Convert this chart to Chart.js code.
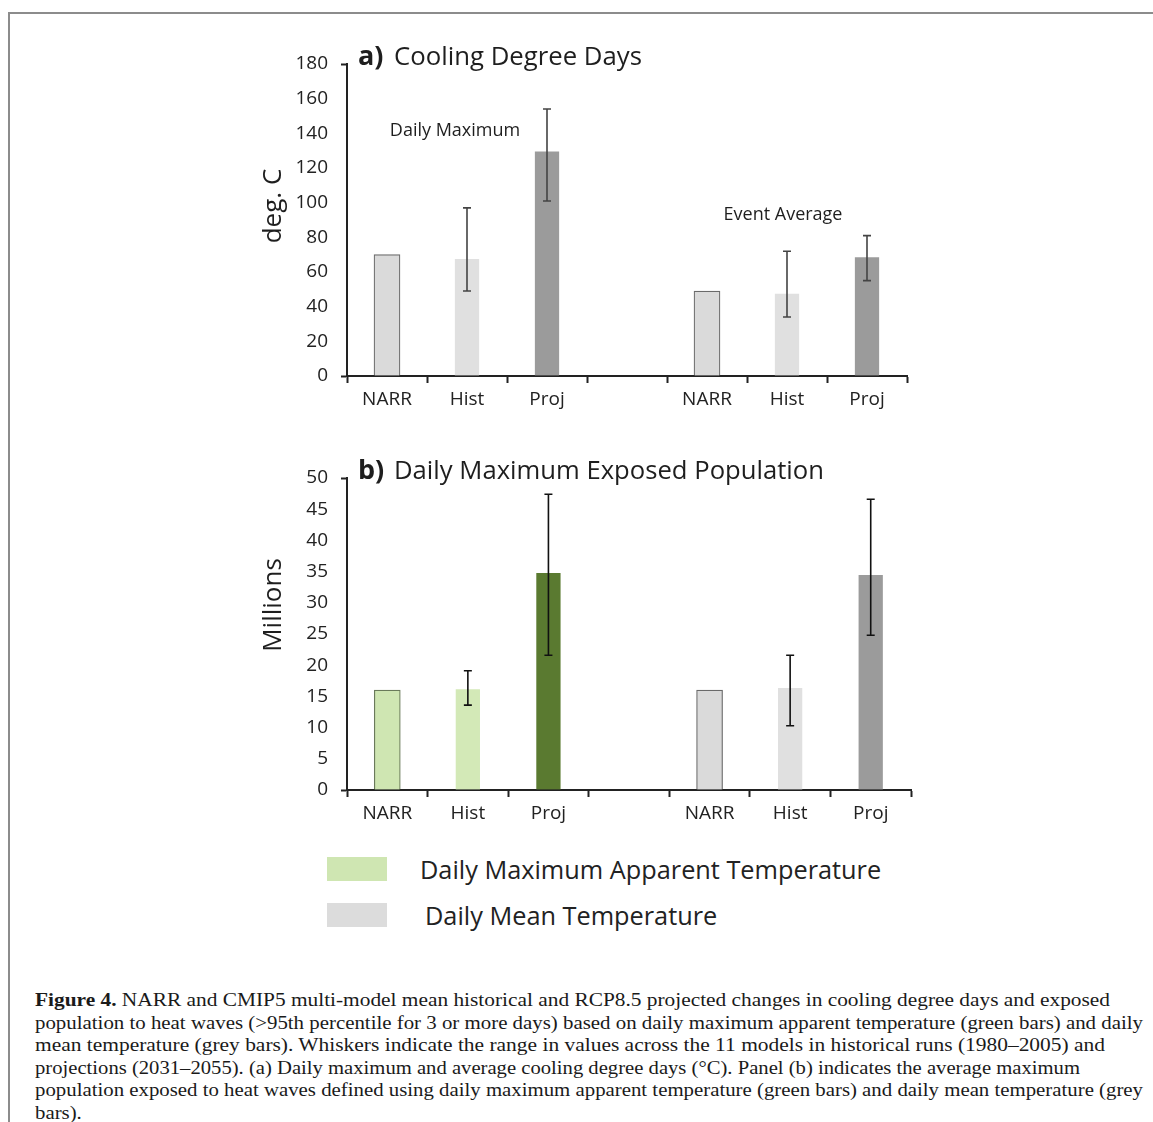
<!DOCTYPE html>
<html>
<head>
<meta charset="utf-8">
<script src="https://cdn.jsdelivr.net/npm/chart.js@4.4.0/dist/chart.umd.min.js"></script>
<style>
  body { margin: 0; background: #fff; width: 1153px; height: 1122px; position: relative; overflow: hidden; }
  #frame { position: absolute; left: 8px; top: 12px; right: -4px; bottom: -4px; border-left: 2px solid #8c8c8c; border-top: 2px solid #8c8c8c; }
  canvas { position: absolute; }
  #chartA { left: 240px; top: 20px; }
  #chartB { left: 240px; top: 434px; }
  .sw { position: absolute; width: 60px; height: 24px; }
  .lg { position: absolute; font-family: "Open Sans", sans-serif; font-size: 25.3px; color: #222; white-space: nowrap; line-height: 1; }
  #caption { position: absolute; left: 35px; top: 989px; font-family: "Liberation Serif", serif; font-size: 19.5px; line-height: 22.6px; color: #1a1a1a; }
  #caption div { white-space: nowrap; transform-origin: 0 50%; width: max-content; }
</style>
</head>
<body>
<div id="frame"></div>
<canvas id="chartA" width="700" height="406"></canvas>
<canvas id="chartB" width="700" height="406"></canvas>

<div class="sw" style="left:327px; top:857px; background:#cfe6b2;"></div>
<div class="lg" style="left:420px; top:857px;">Daily Maximum Apparent Temperature</div>
<div class="sw" style="left:327px; top:903px; background:#dcdcdc;"></div>
<div class="lg" style="left:425px; top:903px;">Daily Mean Temperature</div>

<div id="caption">
  <div><b>Figure 4.</b> NARR and CMIP5 multi-model mean historical and RCP8.5 projected changes in cooling degree days and exposed</div>
  <div>population to heat waves (&gt;95th percentile for 3 or more days) based on daily maximum apparent temperature (green bars) and daily</div>
  <div>mean temperature (grey bars). Whiskers indicate the range in values across the 11 models in historical runs (1980–2005) and</div>
  <div>projections (2031–2055). (a) Daily maximum and average cooling degree days (°C). Panel (b) indicates the average maximum</div>
  <div>population exposed to heat waves defined using daily maximum apparent temperature (green bars) and daily mean temperature (grey</div>
  <div>bars).</div>
</div>

<script>
// categories (the empty one is the gap between the two groups)
const categories = ['NARR', 'Hist', 'Proj', '', 'NARR', 'Hist', 'Proj'];

// a) cooling degree days, deg. C
const cddValues = [70, 68, 130, null, 49, 48, 69];
const cddLow    = [null, 49, 101, null, null, 34, 55];
const cddHigh   = [null, 97, 154, null, null, 72, 81];
const cddTicks  = [0, 20, 40, 60, 80, 100, 120, 140, 160, 180];

// b) exposed population, millions
const popValues = [16, 16.3, 34.9, null, 16, 16.5, 34.6];
const popLow    = [null, 13.6, 21.6, null, null, 10.3, 24.8];
const popHigh   = [null, 19.1, 47.4, null, null, 21.6, 46.6];
const popTicks  = [0, 5, 10, 15, 20, 25, 30, 35, 40, 45, 50];

const FONT = '"Open Sans", sans-serif';

// squeeze the caption lines to the printed widths (condensed serif in the original)
const captionWidths = [1075, 1108, 1070, 1045, 1108];
const lines = document.querySelectorAll('#caption div');
let lastScale = 1;
lines.forEach((d, i) => {
  const w = d.getBoundingClientRect().width;
  const s = captionWidths[i] ? captionWidths[i] / w : lastScale;
  d.style.transform = 'scaleX(' + s + ')';
  lastScale = s;
});

// whiskers + panel texts
const extras = {
  id: 'extras',
  afterDatasetsDraw(chart, args, opts) {
    const c = chart.ctx;
    const x = chart.scales.x, y = chart.scales.y;
    c.save();
    c.strokeStyle = opts.whiskerColor;
    c.lineWidth = 1.6;
    opts.low.forEach((lo, i) => {
      const hi = opts.high[i];
      if (lo == null || hi == null) return;
      const px = x.getPixelForValue(i);
      const y1 = y.getPixelForValue(lo), y2 = y.getPixelForValue(hi);
      c.beginPath();
      c.moveTo(px, y1); c.lineTo(px, y2);
      c.moveTo(px - 4, y1); c.lineTo(px + 4, y1);
      c.moveTo(px - 4, y2); c.lineTo(px + 4, y2);
      c.stroke();
    });
    c.restore();
  },
  afterDraw(chart, args, opts) {
    const c = chart.ctx;
    const a = chart.chartArea;
    c.save();
    c.fillStyle = '#1e1e1e';
    c.textBaseline = 'alphabetic';
    c.textAlign = 'left';
    // panel title
    c.font = 'bold 27px ' + FONT;
    c.fillText(opts.tag, a.left + 11, a.top + 1);
    c.font = '26px ' + FONT;
    c.fillText(opts.title, a.left + 47, a.top + 1, opts.titleWidth);
    // y axis title
    c.font = '26px ' + FONT;
    c.textAlign = 'center';
    c.textBaseline = 'middle';
    c.translate(opts.yTitleX, opts.yTitleY);
    c.rotate(-Math.PI / 2);
    c.fillText(opts.yTitle, 0, 0);
    c.restore();
    // annotations
    c.save();
    c.fillStyle = '#1e1e1e';
    c.font = '18px ' + FONT;
    c.textAlign = 'center';
    c.textBaseline = 'middle';
    (opts.notes || []).forEach(n => c.fillText(n.text, n.x, n.y));
    c.restore();
  }
};

function makeChart(id, values, colors, borders, ticks, max, step, textOpts) {
  return new Chart(document.getElementById(id), {
    type: 'bar',
    data: {
      labels: categories,
      datasets: [{
        data: values,
        backgroundColor: colors,
        borderColor: borders,
        borderWidth: 1.2,
        barThickness: 26
      }]
    },
    options: {
      responsive: false,
      animation: false,
      layout: { padding: { top: 44, right: textOpts.padRight, left: 0, bottom: 0 } },
      plugins: {
        legend: { display: false },
        tooltip: { enabled: false },
        extras: textOpts
      },
      scales: {
        x: {
          afterFit: s => { s.height = 50; },
          grid: { offset: true, drawOnChartArea: false, drawTicks: true, tickLength: 7, tickColor: '#222', tickWidth: 2 },
          border: { display: true, color: '#222', width: 2 },
          ticks: { color: '#222', font: { family: FONT, size: 19 }, padding: 5, autoSkip: false, maxRotation: 0 }
        },
        y: {
          min: 0, max: max,
          afterFit: s => { s.width = 107; },
          afterBuildTicks: s => { s.ticks = ticks.map(v => ({ value: v })); },
          grid: {
            drawOnChartArea: false, drawTicks: true, tickLength: 6, tickWidth: 2,
            tickColor: c => (c.tick && (c.tick.value === max || c.tick.value === 0)) ? '#222' : 'rgba(0,0,0,0)'
          },
          border: { display: true, color: '#222', width: 2 },
          ticks: { color: '#222', font: { family: FONT, size: 19 }, padding: 13, stepSize: step }
        }
      }
    },
    plugins: [extras]
  });
}

makeChart('chartA', cddValues,
  ['#dadada', '#e0e0e0', '#9b9b9b', '#fff', '#dadada', '#e0e0e0', '#9b9b9b'],
  ['#6a6a6a', 'rgba(0,0,0,0)', 'rgba(0,0,0,0)', 'rgba(0,0,0,0)', '#6a6a6a', 'rgba(0,0,0,0)', 'rgba(0,0,0,0)'],
  cddTicks, 180, 20,
  {
    padRight: 33, low: cddLow, high: cddHigh, whiskerColor: '#444',
    tag: 'a)', title: 'Cooling Degree Days', titleWidth: 248,
    yTitle: 'deg. C', yTitleX: 34, yTitleY: 186,
    notes: [{ text: 'Daily Maximum', x: 215, y: 111 }, { text: 'Event Average', x: 543, y: 195 }]
  });

makeChart('chartB', popValues,
  ['#cfe6b2', '#d3e9b7', '#5a7a30', '#fff', '#dadada', '#e0e0e0', '#9b9b9b'],
  ['#6a7a5a', 'rgba(0,0,0,0)', 'rgba(0,0,0,0)', 'rgba(0,0,0,0)', '#6a6a6a', 'rgba(0,0,0,0)', 'rgba(0,0,0,0)'],
  popTicks, 50, 5,
  {
    padRight: 29, low: popLow, high: popHigh, whiskerColor: '#111',
    tag: 'b)', title: 'Daily Maximum Exposed Population', titleWidth: 430,
    yTitle: 'Millions', yTitleX: 34, yTitleY: 171,
    notes: []
  });
</script>
</body>
</html>
